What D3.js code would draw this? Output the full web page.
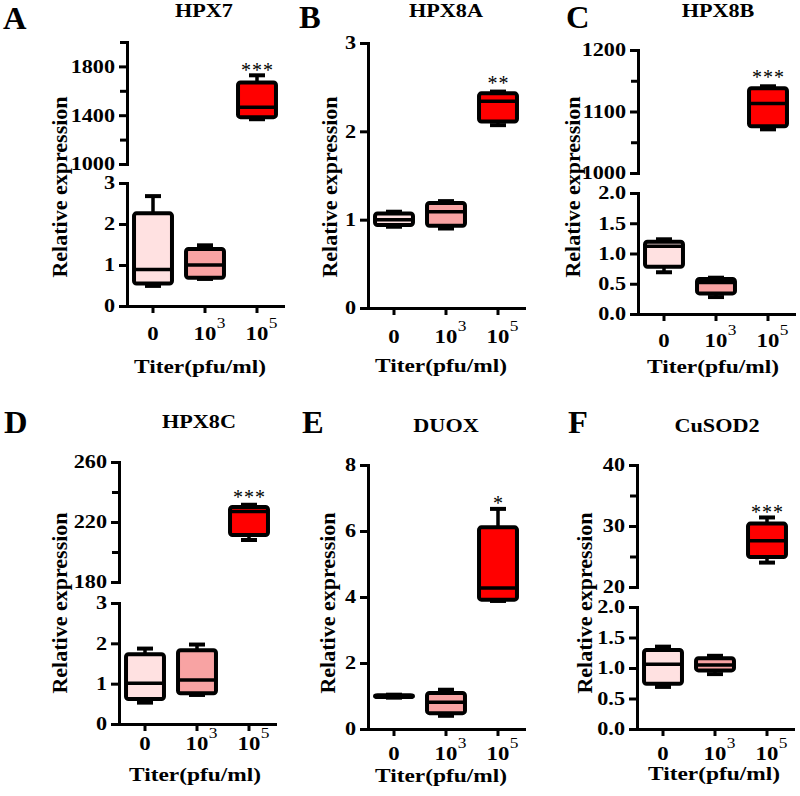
<!DOCTYPE html>
<html><head><meta charset="utf-8">
<script src="https://cdn.jsdelivr.net/npm/d3@7"></script>
<style>
body{margin:0;background:#fff}
svg{display:block}
text{font-family:"Liberation Serif","Times New Roman",serif;fill:#000}
</style>
</head><body>
<svg id="chart" width="800" height="796"></svg>
<script>
// ---------------- data ----------------
const panelLetters = ["A", "B", "C", "D", "E", "F"];
const geneTitles = ["HPX7", "HPX8A", "HPX8B", "HPX8C", "DUOX", "CuSOD2"];
const titerCategories = ["0", "10^3", "10^5"];
const xAxisTitle = "Titer(pfu/ml)";
const yAxisTitle = "Relative expression";
const groupFills = ["#FFE1E1", "#F8A3A3", "#FF0000"];
const significance = ["***", "**", "***", "***", "*", "***"];

// box statistics per group: [min, q1, median, q3, max]
const hpx7Stats   = [[0.49, 0.55, 0.89, 2.26, 2.68], [0.66, 0.69, 1.00, 1.39, 1.48], [1367, 1384, 1465, 1669, 1727]];
const hpx8aStats  = [[0.92, 0.94, 1.00, 1.07, 1.09], [0.90, 0.93, 1.09, 1.19, 1.21], [2.07, 2.11, 2.34, 2.43, 2.45]];
const hpx8bStats  = [[0.69, 0.78, 1.12, 1.195, 1.235], [0.28, 0.34, 0.52, 0.58, 0.60], [1071, 1076, 1113, 1138, 1141]];
const hpx8cStats  = [[0.53, 0.62, 1.01, 1.73, 1.87], [0.72, 0.76, 1.09, 1.83, 1.97], [208, 211.3, 227, 230, 231.5]];
const duoxStats   = [[0.95, 0.97, 1.00, 1.02, 1.04], [0.40, 0.48, 0.81, 1.09, 1.19], [3.88, 3.92, 4.27, 6.11, 6.67]];
const cusod2Stats = [[0.69, 0.74, 1.06, 1.295, 1.35], [0.90, 0.96, 1.05, 1.16, 1.20], [24.0, 24.9, 27.6, 30.4, 31.4]];

// axis domains and ticks
const hpx7LowerTicks = [0, 1, 2, 3];
const hpx7UpperTicks = [1000, 1400, 1800];
const hpx7UpperMinor = [1200, 1600, 2000];
const hpx8aTicks = [0, 1, 2, 3];
const hpx8bLowerTicks = [0, 0.5, 1.0, 1.5, 2.0];
const hpx8bUpperTicks = [1000, 1100, 1200];
const hpx8bUpperMinor = [1050, 1150];
const hpx8cLowerTicks = [0, 1, 2, 3];
const hpx8cUpperTicks = [180, 220, 260];
const hpx8cUpperMinor = [200, 240];
const duoxTicks = [0, 2, 4, 6, 8];
const cusod2LowerTicks = [0, 0.5, 1.0, 1.5, 2.0];
const cusod2UpperTicks = [20, 30, 40];
const cusod2UpperMinor = [25, 35];

// panel table built from the arrays above
const panels = [
  {stats: hpx7Stats,   lowTicks: hpx7LowerTicks,   fmt: d3.format("d"),   upTicks: hpx7UpperTicks,   upMinor: hpx7UpperMinor},
  {stats: hpx8aStats,  lowTicks: hpx8aTicks,       fmt: d3.format("d"),   upTicks: null,             upMinor: null},
  {stats: hpx8bStats,  lowTicks: hpx8bLowerTicks,  fmt: d3.format(".1f"), upTicks: hpx8bUpperTicks,  upMinor: hpx8bUpperMinor},
  {stats: hpx8cStats,  lowTicks: hpx8cLowerTicks,  fmt: d3.format("d"),   upTicks: hpx8cUpperTicks,  upMinor: hpx8cUpperMinor},
  {stats: duoxStats,   lowTicks: duoxTicks,        fmt: d3.format("d"),   upTicks: null,             upMinor: null},
  {stats: cusod2Stats, lowTicks: cusod2LowerTicks, fmt: d3.format(".1f"), upTicks: cusod2UpperTicks, upMinor: cusod2UpperMinor}
];

// ---------------- layout (positions only) ----------------
const layout = [
  {yx:127, xEnd:283, low:[306,183], up:[164,42], title:[204,17], letter:[3,29],  ylab:[67,187],  xlab:[200,373], xTickY:34, starY:67},
  {yx:368, xEnd:524, low:[308,43],  up:null,     title:[446,17], letter:[299,28], ylab:[337,187], xlab:[441,372], xTickY:35, starY:80},
  {yx:638, xEnd:794, low:[314,193], up:[173,50], title:[718,17], letter:[566,28], ylab:[580,187], xlab:[713,373], xTickY:33, starY:74},
  {yx:119, xEnd:275, low:[724,603], up:[582,462],title:[199,428],letter:[4,433],  ylab:[67,603],  xlab:[195,781], xTickY:26, starY:494},
  {yx:368, xEnd:524, low:[729,465], up:null,     title:[446,432],letter:[302,433],ylab:[335,603], xlab:[441,782], xTickY:31, starY:500},
  {yx:637, xEnd:793, low:[729,607], up:[587,465],title:[717,432],letter:[568,433],ylab:[592,603], xlab:[714,780], xTickY:31, starY:509}
];

const SX = 1.2;
const svg = d3.select("#chart");

function styleAxis(g) {
  g.select(".domain").attr("stroke", "#000").attr("stroke-width", 3).attr("stroke-linecap", "square");
  g.selectAll(".tick line").attr("stroke", "#000").attr("stroke-width", 3);
}

panels.forEach((p, i) => {
  const L = layout[i];
  const g = svg.append("g");

  const x = d3.scaleBand().domain(titerCategories).range([L.yx, L.xEnd]).paddingInner(0.27).paddingOuter(0.135);
  const lowDomain = [p.lowTicks[0], p.lowTicks[p.lowTicks.length - 1]];
  const yLow = d3.scaleLinear().domain(lowDomain).range(L.low);
  let yUp = null;
  if (p.upTicks) {
    const allUp = p.upTicks.concat(p.upMinor);
    yUp = d3.scaleLinear().domain([d3.min(allUp), d3.max(allUp)]).range(L.up);
  }

  // y axis (lower / single)
  const gl = g.append("g").attr("transform", `translate(${L.yx},0)`)
    .call(d3.axisLeft(yLow).tickValues(p.lowTicks).tickFormat(p.fmt).tickSize(8).tickSizeOuter(0));
  styleAxis(gl);
  gl.selectAll(".tick text").attr("x", -12 / SX).attr("transform", `scale(${SX},1)`)
    .attr("font-size", 18.5).attr("font-weight", "bold").attr("font-family", "Liberation Serif, serif");

  if (yUp) {
    const gu = g.append("g").attr("transform", `translate(${L.yx},0)`)
      .call(d3.axisLeft(yUp).tickValues(p.upTicks).tickFormat(d3.format("d")).tickSize(8).tickSizeOuter(0));
    styleAxis(gu);
    gu.selectAll(".tick text").attr("x", -12 / SX).attr("transform", `scale(${SX},1)`)
      .attr("font-size", 18.5).attr("font-weight", "bold").attr("font-family", "Liberation Serif, serif");
    const gm = g.append("g").attr("transform", `translate(${L.yx},0)`)
      .call(d3.axisLeft(yUp).tickValues(p.upMinor).tickFormat("").tickSize(7).tickSizeOuter(0));
    gm.select(".domain").remove();
    gm.selectAll(".tick line").attr("stroke", "#000").attr("stroke-width", 3);
  }

  // x axis
  const gx = g.append("g").attr("transform", `translate(0,${L.low[0]})`)
    .call(d3.axisBottom(x).tickSize(7).tickSizeOuter(0).tickFormat(d => d.split("^")[0]));
  styleAxis(gx);
  gx.selectAll(".tick text").attr("y", L.xTickY).attr("dy", 0).attr("transform", `scale(${SX},1)`)
    .attr("font-size", 19).attr("font-weight", "bold").attr("font-family", "Liberation Serif, serif");
  gx.selectAll(".tick").each(function(d) {
    const parts = d.split("^");
    if (parts.length > 1) {
      d3.select(this).append("text")
        .attr("transform", `translate(${11.8},${L.xTickY - 12}) scale(${SX},1)`)
        .attr("text-anchor", "start").attr("font-size", 14.5)
        .attr("font-family", "Liberation Serif, serif").attr("fill", "#000").text(parts[1]);
    }
  });

  // boxes
  p.stats.forEach((s, j) => {
    const yS = (yUp && j === 2) ? yUp : yLow;
    const cat = titerCategories[j];
    const x0 = x(cat), w = x.bandwidth(), cx = x0 + w / 2;
    const [mn, q1, md, q3, mx] = s;
    const bg = g.append("g");
    const capW = 16;
    bg.append("line").attr("x1", cx).attr("x2", cx).attr("y1", yS(q3)).attr("y2", yS(mx)).attr("stroke", "#000").attr("stroke-width", 3.5);
    bg.append("line").attr("x1", cx).attr("x2", cx).attr("y1", yS(q1)).attr("y2", yS(mn)).attr("stroke", "#000").attr("stroke-width", 3.5);
    bg.append("line").attr("x1", cx - capW / 2).attr("x2", cx + capW / 2).attr("y1", yS(mx)).attr("y2", yS(mx)).attr("stroke", "#000").attr("stroke-width", 4);
    bg.append("line").attr("x1", cx - capW / 2).attr("x2", cx + capW / 2).attr("y1", yS(mn)).attr("y2", yS(mn)).attr("stroke", "#000").attr("stroke-width", 4);
    bg.append("rect").attr("x", x0).attr("width", w).attr("y", yS(q3)).attr("height", yS(q1) - yS(q3))
      .attr("rx", 2.5).attr("fill", groupFills[j]).attr("stroke", "#000").attr("stroke-width", 4).attr("stroke-linejoin", "round");
    bg.append("line").attr("x1", x0).attr("x2", x0 + w).attr("y1", yS(md)).attr("y2", yS(md)).attr("stroke", "#000").attr("stroke-width", 3.5);
  });

  // significance stars above the last group
  const cx2 = x(titerCategories[2]) + x.bandwidth() / 2;
  g.append("text").attr("x", cx2 + 0.5).attr("y", L.starY + 9.5).attr("text-anchor", "middle")
    .attr("font-size", 20).attr("letter-spacing", 1).text(significance[i]);

  // titles and labels
  g.append("text").attr("transform", `translate(${L.title[0]},${L.title[1]}) scale(${SX},1)`)
    .attr("text-anchor", "middle").attr("font-size", 18.5).attr("font-weight", "bold").text(geneTitles[i]);
  g.append("text").attr("transform", `translate(${L.letter[0]},${L.letter[1]}) scale(1.05,1)`)
    .attr("text-anchor", "start").attr("font-size", 31).attr("font-weight", "bold").text(panelLetters[i]);
  g.append("text").attr("transform", `translate(${L.xlab[0]},${L.xlab[1]}) scale(${SX},1)`)
    .attr("text-anchor", "middle").attr("font-size", 19.5).attr("font-weight", "bold").text(xAxisTitle);
  g.append("text").attr("transform", `translate(${L.ylab[0]},${L.ylab[1]}) rotate(-90)`)
    .attr("text-anchor", "middle").attr("font-size", 22).attr("font-weight", "bold").text(yAxisTitle);
});
</script>
</body></html>
